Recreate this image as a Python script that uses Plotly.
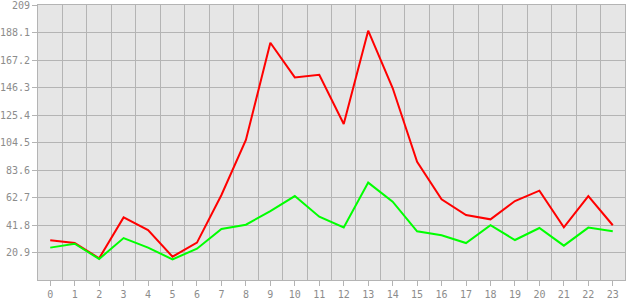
import plotly.graph_objects as go

hours = list(range(24))
red_values = [30.2, 28.1, 16.5, 47.6, 38.0, 17.7, 28.4, 64.6, 106.4, 180.3, 154.0, 156.0,
              118.6, 189.5, 145.9, 89.9, 61.3, 49.4, 46.1, 60.0, 67.9, 40.0, 63.8, 41.6]
green_values = [24.6, 27.6, 16.0, 31.9, 24.6, 15.7, 23.8, 38.8, 42.0, 52.4, 63.8, 48.1,
                40.0, 74.0, 59.5, 37.0, 34.0, 28.1, 41.6, 30.4, 39.5, 26.1, 39.8, 37.0]
y_ticks = [20.9, 41.8, 62.7, 83.6, 104.5, 125.4, 146.3, 167.2, 188.1, 209]
y_tick_labels = ["20.9", "41.8", "62.7", "83.6", "104.5", "125.4", "146.3", "167.2", "188.1", "209"]

grid = "#b4b4b4"
text = "#8c8c8c"

fig = go.Figure()
fig.add_trace(go.Scatter(x=hours, y=red_values, mode="lines",
                         line=dict(color="#ff0000", width=2), hoverinfo="skip"))
fig.add_trace(go.Scatter(x=hours, y=green_values, mode="lines",
                         line=dict(color="#00ff00", width=2), hoverinfo="skip"))

fig.update_layout(
    width=630, height=300,
    margin=dict(l=38, r=5, t=5, b=20, autoexpand=False),
    paper_bgcolor="white",
    plot_bgcolor="#e6e6e6",
    showlegend=False,
    font=dict(family="DejaVu Sans Mono", size=10, color=text),
)
fig.update_xaxes(
    range=[-0.5, 23.5], tickmode="array", tickvals=hours,
    ticktext=[str(h) for h in hours], automargin=False, ticklabeloverflow="allow",
    showgrid=False, ticks="outside", ticklen=5, tickcolor=grid, tickwidth=1,
    minor=dict(tick0=0.5, dtick=1, showgrid=True, gridcolor=grid, gridwidth=1, ticklen=0),
    showline=True, linecolor=grid, linewidth=1, mirror=True, zeroline=False,
    fixedrange=True,
)
fig.update_yaxes(
    range=[0, 209], tickmode="array", tickvals=y_ticks, ticktext=y_tick_labels,
    automargin=False, ticklabeloverflow="allow",
    showgrid=True, gridcolor=grid, gridwidth=1,
    ticks="outside", ticklen=5, tickcolor=grid, tickwidth=1,
    showline=True, linecolor=grid, linewidth=1, mirror=True, zeroline=False,
    fixedrange=True,
)
fig.write_html("out.html", config={"displayModeBar": False})
